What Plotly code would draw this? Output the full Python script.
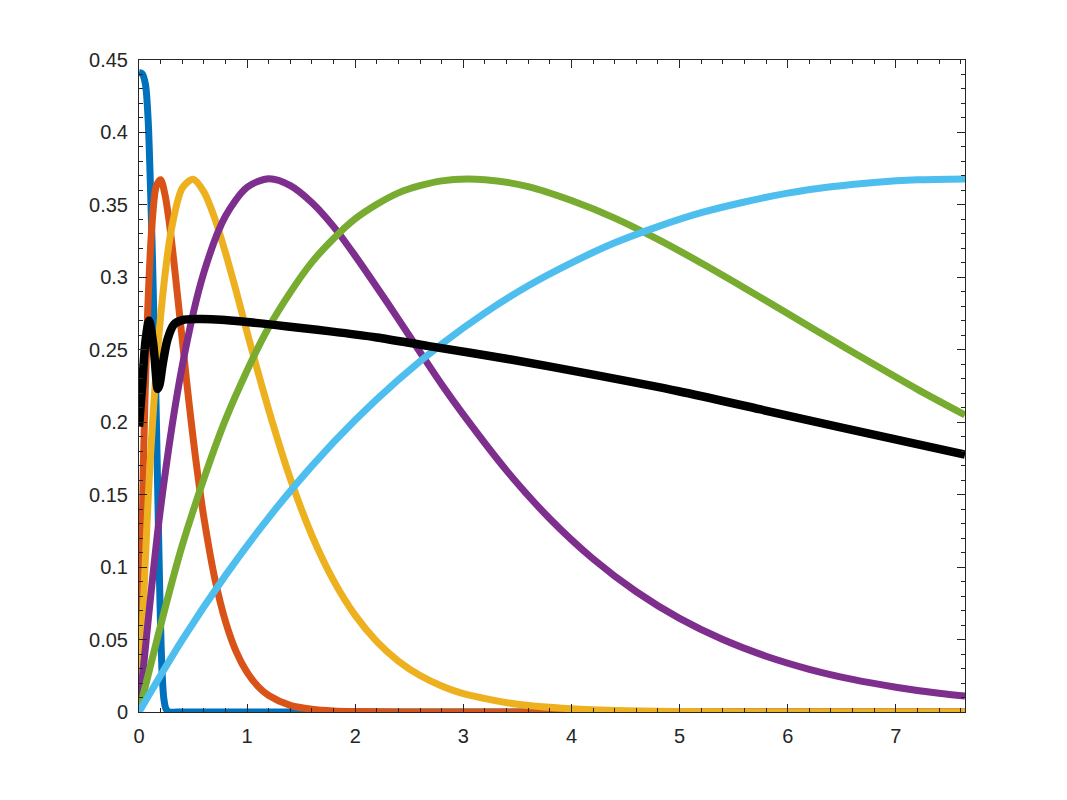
import plotly.graph_objects as go

# curve samples (x, y)
blue_x = [0, 0.03, 0.06, 0.085, 0.105, 0.125, 0.14, 0.155, 0.17, 0.185, 0.2, 0.215, 0.23, 0.25, 0.28, 0.35, 1.0, 7.64]
blue_y = [0.4415, 0.4405, 0.433, 0.408, 0.365, 0.312, 0.264, 0.222, 0.165, 0.108, 0.058, 0.025, 0.009, 0.002, 0.0, 0.0, 0.0, 0.0]

orange_x = [0, 0.04, 0.08, 0.12, 0.16, 0.2, 0.24, 0.28, 0.32, 0.36, 0.4, 0.44, 0.48, 0.52, 0.56, 0.6,
            0.7, 0.8, 0.9, 1.0, 1.1, 1.2, 1.4, 1.6, 1.8, 2.0, 2.4, 7.64]
orange_y = [0, 0.1706, 0.276, 0.336, 0.363, 0.3674, 0.3572, 0.338, 0.3126, 0.2848, 0.257, 0.2286, 0.2021,
            0.1773, 0.1547, 0.1342, 0.0925, 0.0625, 0.0415, 0.0273, 0.0177, 0.0114, 0.0046, 0.0019, 0.0007,
            0.0003, 0.0, 0.0]

yellow_x = [0, 0.1, 0.2, 0.3, 0.4, 0.5, 0.6, 0.7, 0.8, 0.9, 1.0, 1.2, 1.4, 1.6, 1.8, 2.0, 2.2, 2.4, 2.6,
            2.8, 3.0, 3.5, 4.0, 4.5, 5.0, 6.0, 7.64]
yellow_y = [0, 0.168, 0.273, 0.3332, 0.3616, 0.3677, 0.359, 0.3409, 0.3169, 0.2901, 0.262, 0.2085, 0.161,
            0.1218, 0.0907, 0.0667, 0.0486, 0.0351, 0.0252, 0.018, 0.0127, 0.0053, 0.0022, 0.0009, 0.0003,
            0.0, 0.0]

purple_x = [0, 0.2, 0.4, 0.6, 0.8, 1.0, 1.2, 1.4, 1.6, 1.8, 2.0, 2.2, 2.4, 2.6, 2.8, 3.0, 3.4, 3.8, 4.2,
            4.6, 5.0, 5.4, 5.8, 6.2, 6.6, 7.0, 7.4, 7.64]
purple_y = [0, 0.141, 0.2388, 0.3033, 0.3423, 0.3622, 0.368, 0.3633, 0.3515, 0.335, 0.3148, 0.2932, 0.271,
            0.2483, 0.226, 0.2052, 0.1666, 0.1334, 0.1057, 0.083, 0.0646, 0.05, 0.0385, 0.0295, 0.0225,
            0.0171, 0.0129, 0.011]

green_x = [0, 0.4, 0.8, 1.2, 1.6, 2.0, 2.4, 2.8, 3.2, 3.6, 4.0, 4.4, 4.8, 5.2, 5.6, 6.0, 6.4, 6.8, 7.2, 7.64]
green_y = [0, 0.115, 0.2018, 0.2655, 0.3105, 0.3404, 0.3583, 0.3666, 0.3674, 0.3626, 0.353, 0.3409, 0.3262,
           0.3099, 0.2927, 0.275, 0.2573, 0.2398, 0.2227, 0.205]

lblue_x = [0, 0.4, 0.8, 1.2, 1.6, 2.0, 2.4, 2.8, 3.2, 3.6, 4.0, 4.4, 4.8, 5.2, 5.6, 6.0, 6.4, 6.8, 7.2, 7.64]
lblue_y = [0, 0.0497, 0.0943, 0.1342, 0.1699, 0.2015, 0.2294, 0.254, 0.2755, 0.2942, 0.31, 0.3238, 0.335,
           0.3446, 0.352, 0.3581, 0.3625, 0.3655, 0.3673, 0.3679]

black_x = [0, 0.03, 0.06, 0.093, 0.13, 0.155, 0.172, 0.19, 0.217, 0.263, 0.324, 0.40, 0.55, 0.76, 1.0,
           1.25, 1.5, 1.77, 2.2, 2.68, 3.44, 4.19, 4.99, 5.75, 6.51, 7.64]
black_y = [0.197, 0.226, 0.256, 0.270, 0.255, 0.235, 0.223, 0.226, 0.239, 0.257, 0.2675, 0.2705, 0.2712,
           0.2708, 0.2692, 0.2672, 0.265, 0.2627, 0.2585, 0.2525, 0.2433, 0.233, 0.2214, 0.2088, 0.1961, 0.1776]

x_ticks = [0, 1, 2, 3, 4, 5, 6, 7]
y_ticks = [0, 0.05, 0.1, 0.15, 0.2, 0.25, 0.3, 0.35, 0.4, 0.45]

series = [
    (blue_x, blue_y, '#0072BD', 7),
    (orange_x, orange_y, '#D95319', 7),
    (yellow_x, yellow_y, '#EDB120', 7),
    (purple_x, purple_y, '#7E2F8E', 7),
    (green_x, green_y, '#77AC30', 7),
    (lblue_x, lblue_y, '#4DBEEE', 7),
    (black_x, black_y, '#000000', 8.5),
]

data = []
for xs, ys, col, w in series:
    data.append(go.Scatter(x=xs, y=ys, mode='lines',
                           line=dict(color=col, width=w, shape='spline', smoothing=0.8)))

axis_style = dict(showgrid=False, zeroline=False, showline=True, linecolor='#262626', linewidth=1,
                  mirror='ticks', ticks='inside', ticklen=8, tickcolor='#262626', tickwidth=1,
                  tickfont=dict(family='Liberation Sans, Arial, sans-serif', size=20, color='#262626'))

fig = go.Figure(data=data)
# page body adds an 8px margin, so the margins are shifted to keep MATLAB's axes box
fig.update_layout(width=1067, height=800, showlegend=False,
                  paper_bgcolor='white', plot_bgcolor='white',
                  margin=dict(l=131, r=110, t=52, b=96))
fig.update_xaxes(range=[0, 7.64], tickvals=x_ticks, ticktext=[str(v) for v in x_ticks],
                 minor=dict(dtick=0.2, ticks='inside', ticklen=4, tickcolor='#262626'),
                 ticklabelstandoff=6, **axis_style)
fig.update_yaxes(range=[0, 0.45], tickvals=y_ticks, ticktext=['%g' % v for v in y_ticks],
                 minor=dict(dtick=0.01, ticks='inside', ticklen=4, tickcolor='#262626'),
                 ticklabelstandoff=6, **axis_style)

fig.write_html("out.html")
